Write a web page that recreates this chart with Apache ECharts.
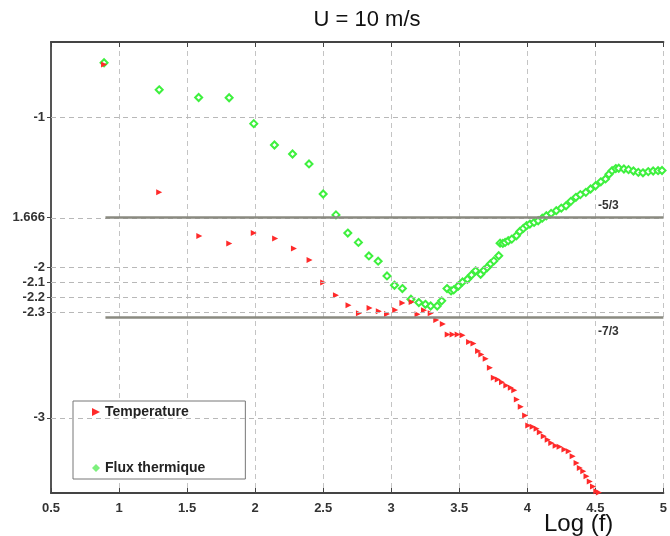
<!DOCTYPE html>
<html>
<head>
<meta charset="utf-8">
<script src="https://cdn.jsdelivr.net/npm/echarts@6/dist/echarts.min.js"></script>
<style>
  html, body { margin: 0; padding: 0; background: #fff; }
  #chart { width: 670px; height: 536px; }
</style>
</head>
<body>
<div id="chart"></div>
<script>
// [log(f), log(spectre)]
var temperature = [
  [0.89, -0.65], [1.295, -1.50], [1.59, -1.79], [1.81, -1.84], [1.99, -1.77],
  [2.147, -1.807], [2.285, -1.873], [2.40, -1.95], [2.50, -2.10], [2.594, -2.185],
  [2.686, -2.251], [2.763, -2.305], [2.841, -2.269], [2.909, -2.291], [2.969, -2.309],
  [3.029, -2.282], [3.082, -2.236], [3.15, -2.229], [3.193, -2.311], [3.241, -2.285],
  [3.29, -2.305], [3.331, -2.349], [3.379, -2.376], [3.415, -2.445], [3.451, -2.445],
  [3.488, -2.445], [3.524, -2.451], [3.572, -2.496], [3.604, -2.505], [3.638, -2.556],
  [3.662, -2.578], [3.694, -2.607], [3.725, -2.667], [3.754, -2.733], [3.783, -2.745],
  [3.814, -2.763], [3.846, -2.785], [3.879, -2.80], [3.904, -2.816], [3.923, -2.878],
  [3.952, -2.927], [3.984, -2.985], [4.007, -3.051], [4.039, -3.06], [4.068, -3.073],
  [4.092, -3.096], [4.121, -3.123], [4.15, -3.145], [4.176, -3.167], [4.208, -3.185],
  [4.237, -3.193], [4.273, -3.211], [4.304, -3.222], [4.333, -3.256], [4.362, -3.30],
  [4.386, -3.333], [4.411, -3.356], [4.435, -3.389], [4.459, -3.423], [4.483, -3.456],
  [4.507, -3.489], [4.526, -3.496]
]
var fluxThermique = [
  [0.89, -0.638], [1.295, -0.818], [1.585, -0.869], [1.809, -0.871], [1.99, -1.043],
  [2.142, -1.185], [2.275, -1.245], [2.396, -1.311], [2.50, -1.511], [2.594, -1.65],
  [2.681, -1.771], [2.759, -1.833], [2.836, -1.923], [2.904, -1.958], [2.969, -2.056],
  [3.024, -2.118], [3.082, -2.14], [3.145, -2.211], [3.203, -2.233], [3.251, -2.245],
  [3.29, -2.256], [3.338, -2.256], [3.371, -2.222], [3.41, -2.14], [3.44, -2.156],
  [3.459, -2.149], [3.493, -2.123], [3.524, -2.096], [3.56, -2.078], [3.59, -2.05],
  [3.62, -2.022], [3.657, -2.045], [3.68, -2.02], [3.705, -2.0], [3.73, -1.975],
  [3.754, -1.956], [3.79, -1.922], [3.80, -1.838], [3.82, -1.84], [3.837, -1.833],
  [3.86, -1.822], [3.886, -1.811], [3.92, -1.789], [3.945, -1.76], [3.971, -1.74],
  [3.995, -1.722], [4.019, -1.711], [4.05, -1.70], [4.08, -1.689], [4.11, -1.672],
  [4.14, -1.656], [4.175, -1.64], [4.213, -1.622], [4.25, -1.605], [4.285, -1.589],
  [4.32, -1.56], [4.357, -1.533], [4.39, -1.515], [4.43, -1.50], [4.465, -1.478],
  [4.502, -1.456], [4.54, -1.43], [4.575, -1.411], [4.60, -1.38], [4.623, -1.356],
  [4.65, -1.342], [4.672, -1.34], [4.71, -1.345], [4.744, -1.349], [4.78, -1.358],
  [4.816, -1.367], [4.85, -1.37], [4.889, -1.362], [4.925, -1.358], [4.961, -1.356],
  [4.99, -1.355]
]
var yTicks = [-1, -1.666, -2, -2.1, -2.2, -2.3, -3]
var yTickLabels = ['-1', '1.666', '-2', '-2.1', '-2.2', '-2.3', '-3']
var slopeLines = [-5 / 3, -7 / 3]
var slopeLabels = ['-5/3', '-7/3']

var font = 'Liberation Sans, Arial, sans-serif'
var chart = echarts.init(document.getElementById('chart'))

var dashedLines = yTicks.map(function(v) {
  return { yAxis: v, lineStyle: { color: '#b8b8b8', type: [5, 4], width: 1 } }
})
var solidLines = slopeLines.map(function(v) {
  return [
    { coord: [0.9, v], lineStyle: { color: '#8a8a80', type: 'solid', width: 2.5 } },
    { coord: [5, v] }
  ]
})

chart.setOption({
  animation: false,
  title: {
    text: 'U = 10 m/s',
    left: 362,
    top: 4,
    textAlign: 'center',
    textStyle: { fontFamily: font, fontSize: 22, fontWeight: 'normal', color: '#111' }
  },
  legend: {
    orient: 'vertical',
    left: 73,
    top: 401,
    padding: [4, 40, 4, 19],
    itemGap: 42,
    itemWidth: 8,
    itemHeight: 14,
    itemTextGap: 19,
    borderColor: '#777',
    borderWidth: 1,
    backgroundColor: '#fff',
    textStyle: { fontFamily: font, fontSize: 14, fontWeight: 'bold', color: '#222' },
    data: [
      { name: 'Temperature', icon: 'path://M0,3L6,6L0,9Z', itemStyle: { color: '#ff2a2a' } },
      { name: 'Flux thermique', icon: 'path://M3,4L6,7L3,10L0,7Z', itemStyle: { color: '#7df07d' } }
    ]
  },
  grid: { left: 51, right: -2, top: 42, bottom: 43 },
  xAxis: [
    {
      type: 'value', min: 0.5, max: 5, interval: 0.5,
      axisLine: { lineStyle: { color: '#444', width: 2 } },
      axisTick: { inside: true, length: 5, lineStyle: { color: '#444' } },
      axisLabel: {
        margin: 9, fontFamily: font, fontSize: 13, fontWeight: 'bold', color: '#333',
        formatter: function(v) { return String(v) }
      },
      splitLine: { show: true, lineStyle: { color: '#c4c4c4', type: [5, 4] } }
    },
    {
      type: 'value', position: 'top', min: 0.5, max: 5, interval: 0.5,
      axisLine: { lineStyle: { color: '#444', width: 2 } },
      axisTick: { inside: true, length: 5, lineStyle: { color: '#444' } },
      axisLabel: { show: false },
      splitLine: { show: false }
    }
  ],
  yAxis: {
    type: 'value', min: -3.5, max: -0.5,
    axisLine: { show: true, lineStyle: { color: '#555', width: 2 } },
    axisTick: { show: true, length: 4, customValues: yTicks, lineStyle: { color: '#444' } },
    axisLabel: {
      margin: 6, fontFamily: font, fontSize: 13, fontWeight: 'bold', color: '#333',
      customValues: yTicks,
      formatter: function(v) {
        var i = yTicks.indexOf(v)
        return i >= 0 ? yTickLabels[i] : ''
      }
    },
    splitLine: { show: false }
  },
  graphic: [
    {
      type: 'text', left: 544, top: 512,
      style: { text: 'Log (f)', fontFamily: font, fontSize: 24, fill: '#111' }
    },
    {
      type: 'text', left: 598, top: 200,
      style: { text: slopeLabels[0], fontFamily: font, fontSize: 12, fontWeight: 'bold', fill: '#333' }
    },
    {
      type: 'text', left: 598, top: 326,
      style: { text: slopeLabels[1], fontFamily: font, fontSize: 12, fontWeight: 'bold', fill: '#333' }
    }
  ],
  series: [
    {
      name: 'Flux thermique',
      type: 'scatter',
      symbol: 'emptyDiamond',
      symbolSize: 7,
      itemStyle: { color: '#3ef03e', borderWidth: 1.5, opacity: 1 },
      data: fluxThermique,
      z: 3,
      markLine: {
        silent: true, symbol: 'none', label: { show: false },
        data: dashedLines.concat(solidLines)
      }
    },
    {
      name: 'Temperature',
      type: 'scatter',
      symbol: 'triangle',
      symbolRotate: -90,
      symbolSize: 6,
      itemStyle: { color: '#ff2a2a', opacity: 1 },
      data: temperature,
      z: 4
    }
  ]
})
</script>
</body>
</html>
